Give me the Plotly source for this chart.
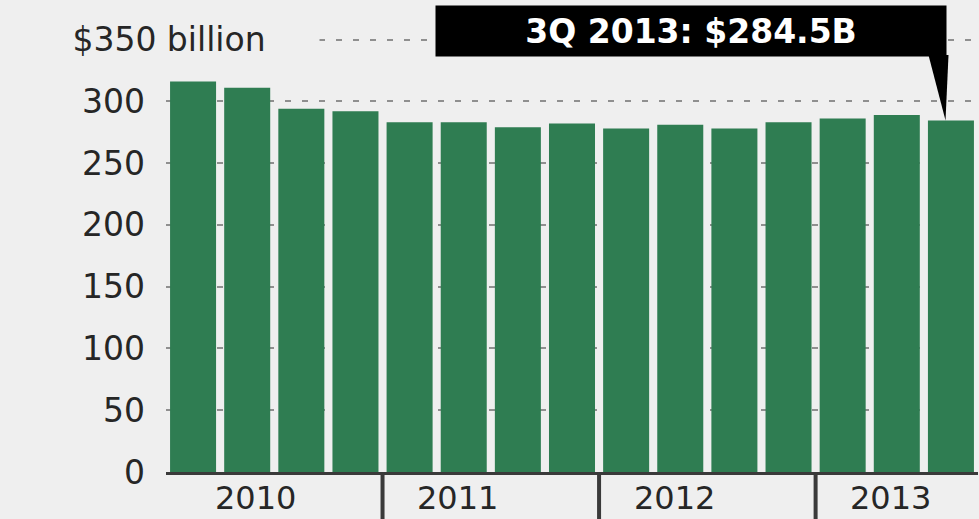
import plotly.graph_objects as go

# Quarterly totals, in billions of dollars
years = ["2010", "2011", "2012", "2013"]
quarters = ["1Q", "2Q", "3Q", "4Q"]
periods = [f"{q} {y}" for y in years for q in quarters][:15]
totals = [316, 311, 294, 292, 283, 283, 279, 282, 278, 281, 278, 283, 286, 289, 284.5]

y_ticks = [0, 50, 100, 150, 200, 250, 300, 350]
y_tick_text = ["0", "50", "100", "150", "200", "250", "300", "$350 billion"]

BG = "#efefef"
GREEN = "#2f7d52"
INK = "#262626"
FONT = "DejaVu Sans"
FS = 33

fig = go.Figure(
    go.Bar(
        x=list(range(len(periods))),
        y=totals,
        marker=dict(color=GREEN, line=dict(width=0)),
        hovertext=periods,
    )
)

# top tick label is wide, drawn separately over the gridline
tick_labels = y_tick_text[:-1] + [""]

fig.update_layout(
    width=979,
    height=519,
    margin=dict(l=166, r=1, t=0, b=47),
    paper_bgcolor=BG,
    plot_bgcolor=BG,
    bargap=0.15,
    showlegend=False,
    font=dict(family=FONT, size=FS, color=INK),
    xaxis=dict(
        range=[-0.5, len(periods) - 0.5],
        showticklabels=False,
        showgrid=False,
        zeroline=False,
        showline=True,
        linecolor="#3a3a3a",
        linewidth=3,
        ticks="",
    ),
    yaxis=dict(
        range=[0, 382],
        tickvals=y_ticks,
        ticktext=tick_labels,
        showgrid=True,
        gridcolor="#8f8f8f",
        gridwidth=2,
        griddash="6px,11px",
        zeroline=False,
        showline=False,
        ticks="",
        ticklabelstandoff=20,
        tickfont=dict(family=FONT, size=FS, color=INK),
    ),
)

# "$350 billion" label with background hiding the gridline beneath it
fig.add_annotation(
    xref="paper", x=0, xanchor="left", xshift=-148,
    yref="y", y=y_ticks[-1], yanchor="middle",
    text=y_tick_text[-1], showarrow=False,
    bgcolor=BG, width=300, align="center", borderpad=0,
    font=dict(family=FONT, size=FS, color=INK),
)

# Year labels and separators between year groups
for i, yr in enumerate(years):
    start = i * 4
    offset = 1.66 if i == 0 else 1.39
    fig.add_annotation(
        xref="x", x=start - 0.5 + offset, xanchor="center",
        yref="paper", y=0, yanchor="middle", yshift=-26,
        text=yr, showarrow=False,
        font=dict(family=FONT, size=FS - 1, color=INK),
    )
    if i > 0:
        fig.add_shape(
            type="line", xref="x", yref="paper",
            x0=start - 0.5, x1=start - 0.5, y0=0, y1=-0.12,
            line=dict(color="#3a3a3a", width=4),
        )

# Callout for the latest quarter
last = len(totals) - 1
last_val = totals[last]
fig.add_annotation(
    xref="x", x=last, xanchor="right", xshift=-4,
    yref="paper", y=1, yanchor="top", yshift=-5,
    text=f"<b>{periods[last]}: ${last_val}B</b>", showarrow=False,
    bgcolor="#000000", width=510, height=50, borderpad=0, align="center",
    font=dict(family=FONT, size=FS, color="#ffffff"),
)
box_bottom = 337.5
fig.add_shape(
    type="path", xref="x", yref="y",
    path=(f"M {last - 0.415},{box_bottom} L {last - 0.045},{box_bottom} "
          f"L {last - 0.1},{last_val} Z"),
    fillcolor="#000000", line=dict(width=0),
)

fig.write_html("out.html")
